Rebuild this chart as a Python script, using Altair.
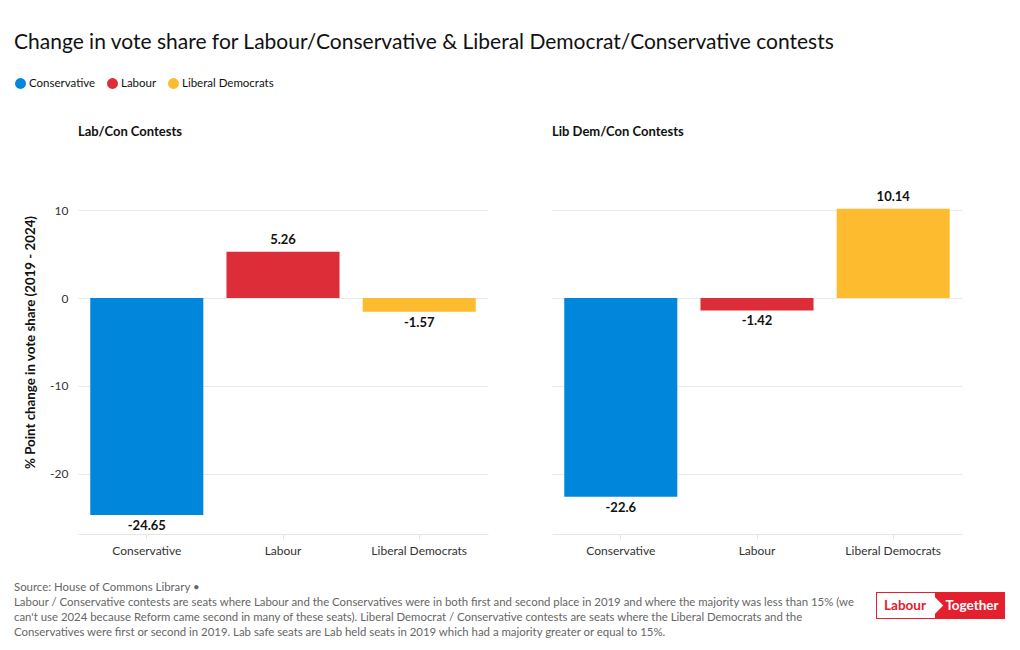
import altair as alt
import pandas as pd

parties = ["Conservative", "Labour", "Liberal Democrats"]
colors = ["#0087DC", "#DC2D38", "#FDBB30"]
labcon_values = [-24.65, 5.26, -1.57]
libcon_values = [-22.6, -1.42, 10.14]

title_text = "Change in vote share for Labour/Conservative & Liberal Democrat/Conservative contests"
panel_titles = ["Lab/Con Contests", "Lib Dem/Con Contests"]
y_title = "% Point change in vote share (2019 - 2024)"
y_ticks = [-20, -10, 0, 10]
footer_lines = [
    "Source: House of Commons Library \u2022",
    "Labour / Conservative contests are seats where Labour and the Conservatives were in both first and second place in 2019 and where the majority was less than 15% (we",
    "can't use 2024 because Reform came second in many of these seats). Liberal Democrat / Conservative contests are seats where the Liberal Democrats and the",
    "Conservatives were first or second in 2019. Lab safe seats are Lab held seats in 2019 which had a majority greater or equal to 15%.",
]

FONT = "Lato"
Y_DOMAIN = [-26.82, 16.82]
W, H = 410, 384

color_scale = alt.Scale(domain=parties, range=colors)


def panel(values, ptitle, first):
    df = pd.DataFrame({"party": parties, "value": values,
                       "label": [str(v) for v in values]})
    x = alt.X(
        "party:N",
        sort=parties,
        scale=alt.Scale(paddingInner=0.17, paddingOuter=0.09),
        axis=alt.Axis(
            title=None, labelAngle=0, labelFontSize=12, labelColor="#333",
            labelFont=FONT, domainColor="#e6e6e6", tickColor="#e6e6e6",
            tickSize=5, labelPadding=6,
        ),
    )
    y = alt.Y(
        "value:Q",
        scale=alt.Scale(domain=Y_DOMAIN, nice=False, zero=False),
        axis=alt.Axis(
            values=y_ticks, grid=True, gridColor="#e9e9e9", domain=False,
            ticks=False, labels=first, labelFontSize=12, labelColor="#333",
            labelFont=FONT, labelPadding=10,
            labelExpr="toString(datum.value)",
            title=y_title if first else None, titleFontSize=13.3,
            titleFont=FONT, titleFontWeight="bold", titleColor="#111",
            titlePadding=12,
        ),
    )
    base = alt.Chart(df)
    bars = base.mark_bar().encode(
        x=x, y=y, y2=alt.datum(0),
        color=alt.Color(
            "party:N", scale=color_scale,
            legend=alt.Legend(
                title=None, orient="none", direction="horizontal",
                legendX=-64, legendY=-73, symbolType="circle", symbolSize=120,
                labelFontSize=11.5, labelFont=FONT, labelColor="#111",
                columnPadding=10, symbolOffset=0, labelOffset=2,
            ),
        ),
    )
    pos = base.transform_filter("datum.value >= 0").mark_text(
        baseline="bottom", dy=-5, fontSize=13, fontWeight="bold", font=FONT,
        color="#111",
    ).encode(x=alt.X("party:N", sort=parties), y="value:Q",
             text="label:N")
    neg = base.transform_filter("datum.value < 0").mark_text(
        baseline="top", dy=5, fontSize=13, fontWeight="bold", font=FONT,
        color="#111",
    ).encode(x=alt.X("party:N", sort=parties), y="value:Q",
             text="label:N")
    return alt.layer(bars, pos, neg).properties(
        width=W, height=H,
        title=alt.TitleParams(
            ptitle, anchor="start", fontSize=13, font=FONT,
            fontWeight="bold", color="#111", offset=11, frame="group",
        ),
    )


left = panel(labcon_values, panel_titles[0], True)
right = panel(libcon_values, panel_titles[1], False)
top = alt.hconcat(left, right, spacing=64)

# footer
fdf = pd.DataFrame({"line": footer_lines, "i": list(range(len(footer_lines)))})
footer_text = alt.Chart(fdf).mark_text(
    align="left", baseline="middle", fontSize=11.4, font=FONT,
    color="#666",
).encode(
    x=alt.value(-64),
    y=alt.Y("i:O", axis=None, scale=alt.Scale(paddingOuter=0.5)),
    text="line:N",
)
logo_df = pd.DataFrame({"a": [0]})
logo_base = alt.Chart(logo_df)
logo_red = logo_base.mark_rect(color="#E4202E").encode(
    x=alt.value(798), x2=alt.value(927), y=alt.value(11), y2=alt.value(38))
logo_white = logo_base.mark_rect(color="white").encode(
    x=alt.value(799), x2=alt.value(857), y=alt.value(12), y2=alt.value(37))
logo_arrow = logo_base.mark_point(
    shape="M-1,-1L0,-1L1,0L0,1L-1,1Z", filled=True, color="white", opacity=1,
    size=600,
).encode(x=alt.value(853), y=alt.value(24.5))
logo_t1 = logo_base.mark_text(
    text="Labour", color="#E4202E", fontWeight="bold", fontSize=13.5,
    font=FONT, align="center", baseline="middle",
).encode(x=alt.value(827), y=alt.value(25))
logo_t2 = logo_base.mark_text(
    text="Together", color="white", fontWeight="bold", fontSize=13.5,
    font=FONT, align="center", baseline="middle",
).encode(x=alt.value(894), y=alt.value(25))
footer = alt.layer(footer_text, logo_red, logo_white, logo_arrow, logo_t1,
                   logo_t2).properties(width=W * 2 + 64, height=59)

chart = alt.vconcat(top, footer, spacing=25).properties(
    title=alt.TitleParams(
        title_text, anchor="start", fontSize=21, font=FONT,
        fontWeight="normal", color="#111", offset=24, frame="bounds",
    ),
    padding={"left": 6, "top": 24, "right": 2, "bottom": 0},
).configure(font=FONT, view=alt.ViewConfig(strokeWidth=0, stroke="transparent"))

chart.save("out.html", embed_options={"renderer": "svg", "actions": False})
